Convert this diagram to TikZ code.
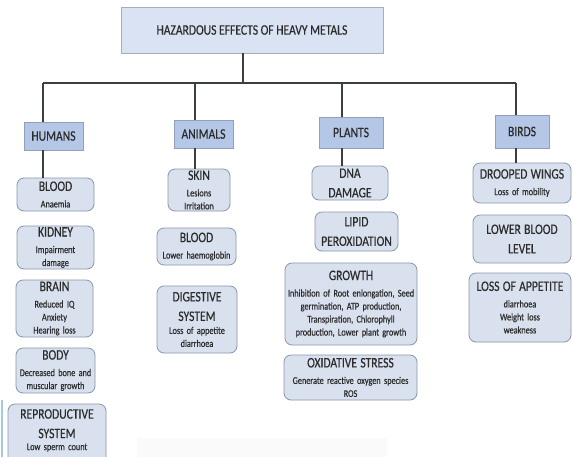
\documentclass[tikz,border=0pt]{standalone}
\usepackage{fontspec}
\setmainfont{Carlito}[FakeStretch=0.8, FakeBold=0.4]
\definecolor{titlefill}{HTML}{DAE3F3}
\definecolor{titleborder}{HTML}{A6AEBB}
\definecolor{catfill}{HTML}{B4C7E7}
\definecolor{catborder}{HTML}{8FA0B8}
\definecolor{subfill}{HTML}{D9E1EF}
\definecolor{subborder}{HTML}{8896AC}
\definecolor{connc}{HTML}{3A3F44}
\definecolor{txt}{HTML}{2B2B2B}
\newcommand{\bxhead}[1]{{\fontsize{14.5}{19.5}\selectfont #1\par}}
\newcommand{\bxdet}[1]{{\vspace{3.5pt}\fontsize{10.3}{13}\selectfont #1\par}}
\tikzset{
  titlebox/.style={draw=titleborder, fill=titlefill, line width=0.9pt, inner sep=0pt,
    minimum width=262pt, minimum height=46pt, text=txt, font=\fontsize{14.5}{16}\selectfont},
  catbox/.style n args={2}{draw=catborder, fill=catfill, line width=0.9pt, inner sep=0pt,
    minimum width=#1pt, minimum height=#2pt, text=txt, font=\fontsize{14.5}{16}\selectfont},
  subbox/.style n args={2}{draw=subborder, fill=subfill, line width=0.8pt, inner sep=0pt,
    rounded corners=7pt, minimum width=#1pt, minimum height=#2pt, text width=#1pt,
    align=center, text=txt},
  conn/.style={draw=connc, line width=1.1pt}
}
\begin{document}
\begin{tikzpicture}[x=1pt, y=-1pt]
\clip (0,0) rectangle (573,456);
\fill[white] (0,0) rectangle (573,456);
% faint artefacts
\fill[black!2] (137,438) rectangle (387,460);
\draw[line width=1.4pt, draw={rgb,255:red,165;green,200;blue,232}] (2,400) -- (2,460);

% title and categories
\node[titlebox] (title) at (252,30) {HAZARDOUS EFFECTS OF HEAVY METALS};
\node[catbox={59}{28}] (humans) at (53.5,136) {HUMANS};
\node[catbox={59}{28}] (animals) at (203.5,134) {ANIMALS};
\node[catbox={64}{31}] (plants) at (351,132.5) {PLANTS};
\node[catbox={54}{33}] (birds) at (522,131.5) {BIRDS};

% humans column
\node[subbox={77}{33}] (hblood) at (55.5,194.5) {\bxhead{BLOOD}\bxdet{Anaemia}};
\node[subbox={77}{43}] (hkidney) at (55.5,247.5) {\bxhead{KIDNEY}\bxdet{Impairment\\damage}};
\node[subbox={77}{57}] (hbrain) at (54.5,308.5) {\bxhead{BRAIN}\bxdet{Reduced IQ\\Anxiety\\Hearing loss}};
\node[subbox={79}{45}] (hbody) at (55.5,370.5) {\bxhead{BODY}\bxdet{Decreased bone and\\muscular growth}};
\node[subbox={98}{62}] (hrepro) at (57,435) {};
\node[align=center, inner sep=0pt, text width=98pt, text=txt] (hreprotext) at (57,430.5)
  {\bxhead{REPRODUCTIVE\\SYSTEM}{\fontsize{10.3}{12}\selectfont Low sperm count\par}};

% animals column
\node[subbox={62}{42}] (askin) at (199,190) {\bxhead{SKIN}\bxdet{Lesions\\Irritation}};
\node[subbox={79}{37}] (ablood) at (196.5,246.5) {\bxhead{BLOOD}\bxdet{Lower haemoglobin}};
\node[subbox={80}{67}] (adigest) at (197,319.5) {\bxhead{DIGESTIVE\\SYSTEM}{\fontsize{10.3}{13}\selectfont Loss of appetite\\diarrhoea\par}};

% plants column
\node[subbox={76}{34}] (pdna) at (350,183) {\bxhead{DNA\\DAMAGE}};
\node[subbox={83}{39}] (plipid) at (356.5,231.5) {\bxhead{LIPID\\PEROXIDATION}};
\node[subbox={132}{82}] (pgrowth) at (351,304) {\bxhead{GROWTH}\bxdet{Inhibition of Root enlongation, Seed\\germination, ATP production,\\Transpiration, Chlorophyll\\production, Lower plant growth}};
\node[subbox={133}{45}] (poxid) at (350.5,377.5) {\bxhead{OXIDATIVE STRESS}\bxdet{Generate reactive oxygen species\\ROS}};

% birds column
\node[subbox={98}{40}] (bwings) at (522,183) {\bxhead{DROOPED WINGS}\bxdet{Loss of mobility}};
\node[subbox={98}{48}] (bblood) at (522,239) {\bxhead{LOWER BLOOD\\LEVEL}};
\node[subbox={102}{69}] (bappetite) at (520,307.5) {\bxhead{LOSS OF APPETITE}\bxdet{diarrhoea\\Weight loss\\weakness}};

% connectors
\coordinate (jn) at (243,83);
\coordinate (bH) at (43,83);
\coordinate (bA) at (195,83);
\coordinate (bP) at (342,83);
\coordinate (bB) at (516,83);
\draw[conn] (title.south -| jn) -- (jn);
\draw[conn] (bH) -- (bB);
\draw[conn] (bH) -- (bH |- humans.north);
\draw[conn] (bA) -- (bA |- animals.north);
\draw[conn] (bP) -- (bP |- plants.north);
\draw[conn] (bB) -- (bB |- birds.north);
\draw[conn] (humans.south -| bH) -- (bH |- hblood.north);
\draw[conn] (animals.south -| bA) -- (bA |- askin.north);
\draw[conn] (plants.south -| bP) -- (bP |- pdna.north);
\draw[conn] (birds.south -| bB) -- (bB |- bwings.north);
\end{tikzpicture}
\end{document}
